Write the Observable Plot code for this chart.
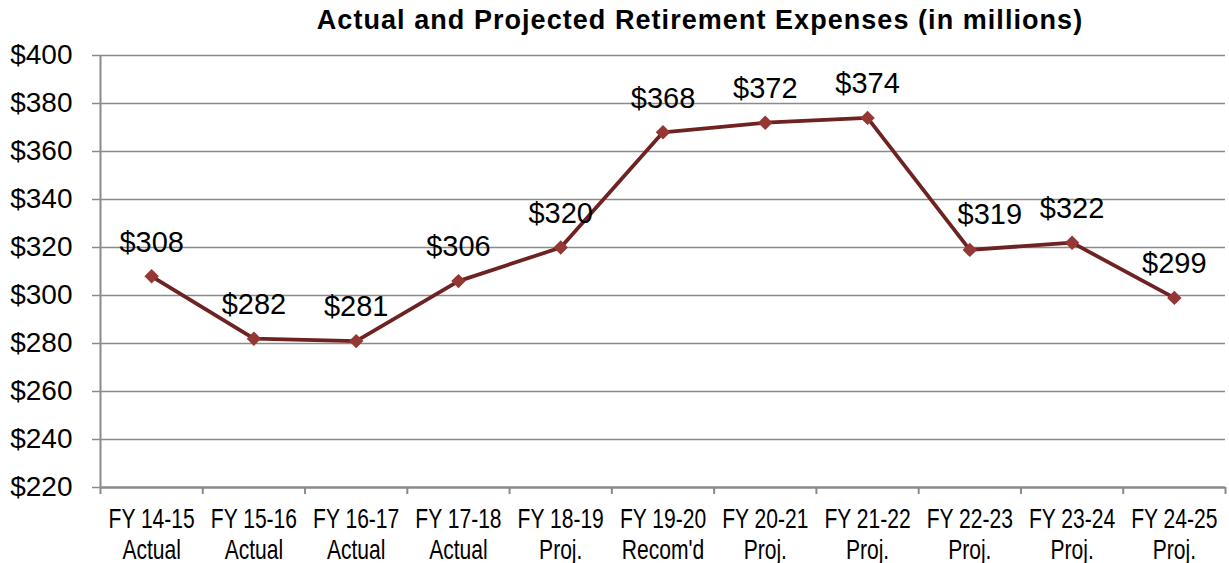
<!DOCTYPE html>
<html><head><meta charset="utf-8">
<script src="https://cdn.jsdelivr.net/npm/d3@7"></script>
<script src="https://cdn.jsdelivr.net/npm/@observablehq/plot@0.6"></script>
<style>
body{margin:0;background:#fff;font-family:"Liberation Sans",Arial,sans-serif;}
#title{height:40px;line-height:40px;font-weight:bold;font-size:27px;letter-spacing:1.05px;text-align:center;padding-left:171px;color:#000;box-sizing:border-box;width:1229px;white-space:nowrap;}
</style></head>
<body>
<div id="title">Actual and Projected Retirement Expenses (in millions)</div>
<div id="chart"></div>
<script>
const years = ["FY 14-15","FY 15-16","FY 16-17","FY 17-18","FY 18-19","FY 19-20","FY 20-21","FY 21-22","FY 22-23","FY 23-24","FY 24-25"];
const kinds = ["Actual","Actual","Actual","Actual","Proj.","Recom'd","Proj.","Proj.","Proj.","Proj.","Proj."];
const values = [308,282,281,306,320,368,372,374,319,322,299];
const yTicks = [220,240,260,280,300,320,340,360,380,400];

const data = values.map((v,i)=>({i, v}));
const idx = years.map((_,i)=>i);
const bounds = d3.range(-0.5, years.length, 1);
const nudged = 8; // label of FY 22-23 sits right of its point, clear of the line

const plot = Plot.plot({
  width:1229, height:523,
  marginTop:15, marginBottom:76, marginLeft:100, marginRight:4,
  x:{domain:[-0.5, years.length-0.5]},
  y:{domain:[220,400]},
  style:{fontFamily:"'Liberation Sans',Arial,sans-serif", background:"white", overflow:"visible"},
  marks:[
    Plot.gridY(yTicks.filter(t=>t>220), {stroke:"#8a8a8a", strokeOpacity:1, strokeWidth:1.5, x1:-0.5, x2:years.length-0.5}),
    Plot.axisY({ticks:yTicks, tickFormat:d=>"$"+d, tickSize:8, tickPadding:20, fontSize:28, stroke:"#8a8a8a", strokeWidth:1.5, color:"#000", label:null}),
    Plot.ruleX([-0.5], {stroke:"#8a8a8a", strokeWidth:2}),
    Plot.ruleY([220], {stroke:"#8a8a8a", strokeWidth:2.5, x1:-0.5, x2:years.length-0.5}),
    Plot.axisX({ticks:bounds, tickFormat:()=>"", tickSize:7, stroke:"#8a8a8a", strokeWidth:2, label:null}),
    Plot.axisX({ticks:idx, tickFormat:i=>years[i]+"\n"+kinds[i], tickSize:0, tickPadding:18, fontSize:27, lineHeight:1.15, color:"#000", label:null}),
    Plot.line(data, {x:"i", y:"v", stroke:"#6e2222", strokeWidth:3.8}),
    Plot.dot(data, {x:"i", y:"v", symbol:"diamond2", r:6.5, fill:"#953735", stroke:"none"}),
    Plot.text(data.filter(d=>d.i!==nudged), {x:"i", y:"v", text:d=>"$"+d.v, dy:-34, fontSize:29, fill:"#000"}),
    Plot.text(data.filter(d=>d.i===nudged), {x:"i", y:"v", text:d=>"$"+d.v, dy:-35, dx:20, fontSize:29, fill:"#000"})
  ]
});
document.getElementById("chart").appendChild(plot);
// condense the category labels (narrow face look)
plot.querySelectorAll('g[aria-label="x-axis tick label"] text').forEach(t=>{
  const tr = t.getAttribute("transform");
  if (tr) t.setAttribute("transform", tr + " scale(0.78,1)");
});
</script>
</body></html>
